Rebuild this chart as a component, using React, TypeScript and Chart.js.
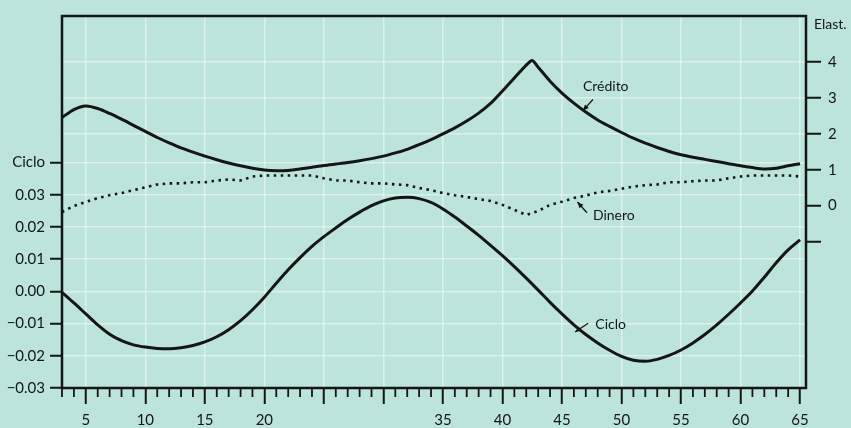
import React, { useEffect, useRef } from 'react';
import { Chart, registerables } from 'chart.js';

Chart.register(...registerables);

// Periods (x axis)
const periods = [
  3, 4, 5, 6, 7, 8, 9, 10, 11, 12, 13, 14, 15, 16, 17, 18, 19, 20, 21, 22, 23, 24, 25, 26, 27, 28, 29, 30, 31, 32, 33, 34,
  35, 36, 37, 38, 39, 40, 41, 42, 43, 44, 45, 46, 47, 48, 49, 50, 51, 52, 53, 54, 55, 56, 57, 58, 59, 60, 61, 62, 63, 64, 65,
];

// Ciclo (left axis)
const ciclo = [
  -0.0003, -0.0036, -0.007, -0.0104, -0.0133, -0.0153, -0.0166, -0.0173, -0.0177, -0.0178, -0.0175, -0.0168, -0.0157,
  -0.0141, -0.0119, -0.0091, -0.0057, -0.0018, 0.0025, 0.0067, 0.0105, 0.014, 0.017, 0.0197, 0.0223, 0.0246, 0.0266,
  0.0281, 0.029, 0.0292, 0.0288, 0.0276, 0.0256, 0.0231, 0.0203, 0.0174, 0.0143, 0.0111, 0.0077, 0.0041, 0.0004,
  -0.0034, -0.007, -0.0104, -0.0134, -0.016, -0.0183, -0.0202, -0.0214, -0.0217, -0.0211, -0.0199, -0.0182, -0.016,
  -0.0134, -0.0104, -0.0071, -0.0036, 0.0001, 0.0044, 0.0089, 0.0129, 0.016,
];

// Dinero (right axis, elasticity)
const dinero = [
  -0.18, -0.01, 0.1, 0.21, 0.29, 0.35, 0.43, 0.51, 0.59, 0.62, 0.62, 0.65, 0.65, 0.7, 0.73, 0.7, 0.81, 0.84, 0.84, 0.84,
  0.84, 0.84, 0.76, 0.7, 0.7, 0.65, 0.62, 0.62, 0.59, 0.57, 0.49, 0.43, 0.35, 0.29, 0.24, 0.18, 0.13, 0.02, -0.12, -0.26,
  -0.15, 0.02, 0.11, 0.21, 0.28, 0.37, 0.41, 0.47, 0.53, 0.57, 0.59, 0.65, 0.65, 0.68, 0.7, 0.7, 0.76, 0.81, 0.84, 0.84,
  0.84, 0.84, 0.81,
];

// Crédito (right axis, elasticity)
const creditoPeriods = [
  3, 4, 5, 6, 7, 8, 9, 10, 11, 12, 13, 14, 15, 16, 17, 18, 19, 20, 21, 22, 23, 24, 25, 26, 27, 28, 29, 30, 31, 32, 33, 34,
  35, 36, 37, 38, 39, 40, 41, 42, 42.5, 43, 44, 45, 46, 47, 48, 49, 50, 51, 52, 53, 54, 55, 56, 57, 58, 59, 60, 61, 62,
  63, 64, 65,
];
const credito = [
  2.46, 2.68, 2.78, 2.71, 2.57, 2.41, 2.24, 2.07, 1.9, 1.75, 1.61, 1.49, 1.38, 1.28, 1.19, 1.11, 1.04, 0.99, 0.97, 0.98,
  1.02, 1.07, 1.12, 1.16, 1.2, 1.25, 1.31, 1.38, 1.47, 1.57, 1.7, 1.84, 2.0, 2.17, 2.36, 2.58, 2.85, 3.2, 3.56, 3.92,
  4.05, 3.86, 3.47, 3.14, 2.86, 2.61, 2.39, 2.21, 2.04, 1.88, 1.74, 1.62, 1.51, 1.42, 1.35, 1.29, 1.23, 1.17, 1.11, 1.06,
  1.02, 1.04, 1.11, 1.17,
];

// Tick labels
const xTickValues = [5, 10, 15, 20, 25, 30, 35, 40, 45, 50, 55, 60, 65];
const xTickLabels = ['5', '10', '15', '20', '', '', '35', '40', '45', '50', '55', '60', '65'];
const cicloTicks = [-0.03, -0.02, -0.01, 0, 0.01, 0.02, 0.03, 0.04];
const cicloTickLabels = ['−0.03', '−0.02', '−0.01', '0.00', '0.01', '0.02', '0.03', 'Ciclo'];
const elastTicks = [-1, 0, 1, 2, 3, 4];
const elastTickLabels = ['', '0', '1', '2', '3', '4'];

const BG = '#bce4dc';
const INK = '#151515';
const PAPER_GRID = 'rgba(255,255,255,0.45)';
const FONT = 'Lato';

function arrow(ctx: CanvasRenderingContext2D, x1: number, y1: number, x2: number, y2: number) {
  ctx.beginPath();
  ctx.moveTo(x1, y1);
  ctx.lineTo(x2, y2);
  ctx.stroke();
  const ang = Math.atan2(y2 - y1, x2 - x1);
  const len = 6;
  const w = 2.6;
  ctx.beginPath();
  ctx.moveTo(x2, y2);
  ctx.lineTo(x2 - len * Math.cos(ang) + w * Math.sin(ang), y2 - len * Math.sin(ang) - w * Math.cos(ang));
  ctx.lineTo(x2 - len * Math.cos(ang) - w * Math.sin(ang), y2 - len * Math.sin(ang) + w * Math.cos(ang));
  ctx.closePath();
  ctx.fill();
}

const decorPlugin = {
  id: 'decor',
  afterDatasetsDraw(chart: any) {
    const { ctx, chartArea: a, scales } = chart;
    const x = scales.x;
    const yL = scales.yL;
    const yR = scales.yR;
    ctx.save();
    ctx.strokeStyle = INK;
    ctx.fillStyle = INK;
    // frame
    ctx.lineWidth = 2.5;
    ctx.strokeRect(a.left, a.top, a.right - a.left, a.bottom - a.top);
    // minor x ticks
    ctx.lineWidth = 1.8;
    for (let k = 3; k <= 65; k++) {
      if (k % 5 === 0) continue;
      const px = x.getPixelForValue(k);
      ctx.beginPath();
      ctx.moveTo(px, a.bottom);
      ctx.lineTo(px, a.bottom + 9);
      ctx.stroke();
    }
    // labels
    ctx.font = `14px ${FONT}`;
    ctx.textBaseline = 'middle';
    ctx.textAlign = 'left';
    ctx.fillText('Crédito', x.getPixelForValue(46.76), yR.getPixelForValue(3.31));
    ctx.fillText('Dinero', x.getPixelForValue(47.6), yR.getPixelForValue(-0.29));
    ctx.fillText('Ciclo', x.getPixelForValue(47.8), yL.getPixelForValue(-0.0102));
    ctx.fillText('Elast.', a.right + 8, a.top + 8);
    ctx.lineWidth = 1.3;
    arrow(ctx, x.getPixelForValue(47.6), yR.getPixelForValue(2.96), x.getPixelForValue(46.76), yR.getPixelForValue(2.65));
    arrow(ctx, x.getPixelForValue(47.1), yR.getPixelForValue(-0.2), x.getPixelForValue(46.3), yR.getPixelForValue(0.1));
    arrow(ctx, x.getPixelForValue(47.2), yL.getPixelForValue(-0.0099), x.getPixelForValue(46.1), yL.getPixelForValue(-0.0126));
    ctx.restore();
  },
};

export default function App() {
  const ref = useRef<HTMLCanvasElement | null>(null);

  useEffect(() => {
    if (!ref.current) return;
    const tickFont = { family: FONT, size: 15 };
    const chart = new Chart(ref.current, {
      type: 'line',
      data: {
        datasets: [
          {
            label: 'Crédito',
            data: creditoPeriods.map((p, i) => ({ x: p, y: credito[i] })),
            yAxisID: 'yR',
            borderColor: INK,
            borderWidth: 3,
            pointRadius: 0,
            tension: 0.25,
            fill: false,
          },
          {
            label: 'Dinero',
            data: periods.map((p, i) => ({ x: p, y: dinero[i] })),
            yAxisID: 'yR',
            borderColor: INK,
            borderWidth: 2.6,
            borderDash: [2.5, 4.5],
            pointRadius: 0,
            tension: 0,
            fill: false,
          },
          {
            label: 'Ciclo',
            data: periods.map((p, i) => ({ x: p, y: ciclo[i] })),
            yAxisID: 'yL',
            borderColor: INK,
            borderWidth: 3,
            pointRadius: 0,
            cubicInterpolationMode: 'monotone',
            fill: false,
          },
        ],
      },
      options: {
        responsive: false,
        animation: false,
        devicePixelRatio: 1,
        layout: { padding: { top: 10, left: 0, right: 0, bottom: 0 } },
        plugins: { legend: { display: false }, tooltip: { enabled: false } },
        scales: {
          x: {
            type: 'linear',
            position: 'bottom',
            min: 3,
            max: 65.5,
            afterBuildTicks: (s: any) => {
              s.ticks = xTickValues.map((v) => ({ value: v }));
            },
            afterFit: (s: any) => {
              s.height = 40;
            },
            ticks: {
              autoSkip: false,
              maxRotation: 0,
              padding: 7,
              color: INK,
              font: tickFont,
              callback: (_v: any, i: number) => xTickLabels[i],
            },
            grid: {
              color: PAPER_GRID,
              lineWidth: 1.5,
              tickColor: INK,
              tickWidth: 2,
              tickLength: 16,
            },
            border: { display: false },
          },
          yL: {
            type: 'linear',
            position: 'left',
            min: -0.03,
            max: 0.0855,
            afterBuildTicks: (s: any) => {
              s.ticks = cicloTicks.map((v) => ({ value: v }));
            },
            afterFit: (s: any) => {
              s.width = 62;
            },
            ticks: {
              autoSkip: false,
              padding: 5,
              color: INK,
              font: tickFont,
              callback: (_v: any, i: number) => cicloTickLabels[i],
            },
            grid: {
              color: PAPER_GRID,
              lineWidth: 1.5,
              tickColor: INK,
              tickWidth: 2,
              tickLength: 12,
            },
            border: { display: false },
          },
          yR: {
            type: 'linear',
            position: 'right',
            min: -5.09,
            max: 5.29,
            afterBuildTicks: (s: any) => {
              s.ticks = elastTicks.map((v) => ({ value: v }));
            },
            afterFit: (s: any) => {
              s.width = 45;
            },
            ticks: {
              autoSkip: false,
              padding: 7,
              color: INK,
              font: tickFont,
              callback: (_v: any, i: number) => elastTickLabels[i],
            },
            grid: {
              color: (c: any) => (c.tick && c.tick.value >= 2 ? PAPER_GRID : 'rgba(0,0,0,0)'),
              lineWidth: 1.5,
              tickColor: INK,
              tickWidth: 2,
              tickLength: 15,
            },
            border: { display: false },
          },
        },
      },
      plugins: [decorPlugin],
    } as any);
    return () => chart.destroy();
  }, []);

  return (
    <div
      style={{
        position: 'absolute',
        left: 0,
        top: 0,
        width: 851,
        height: 428,
        background: BG,
        overflow: 'hidden',
      }}
    >
      <canvas ref={ref} width={851} height={428} style={{ display: 'block', width: 851, height: 428 }} />
    </div>
  );
}
